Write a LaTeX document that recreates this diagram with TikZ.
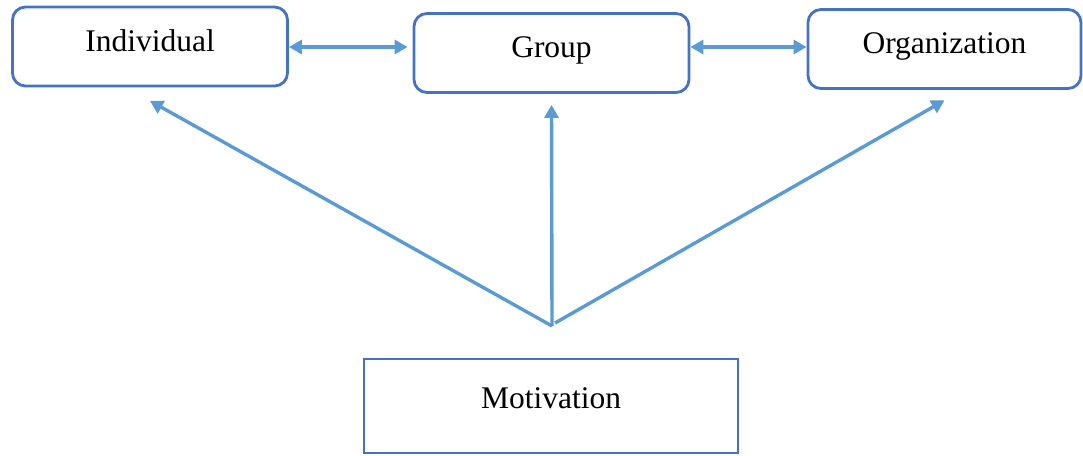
\documentclass[tikz,border=0pt]{standalone}
\usepackage{xcolor}
\usepackage{fontspec}
\setmainfont{Liberation Serif}
\usetikzlibrary{arrows.meta}

\definecolor{boxblue}{RGB}{68,114,196}
\definecolor{arrowblue}{RGB}{91,155,213}

\tikzset{
	roundbox/.style = {draw=boxblue, line width=2.8pt, rounded corners=13pt,
		minimum width=275pt, minimum height=79pt, text depth=12pt},
	squarebox/.style = {draw=boxblue, line width=2.8pt,
		minimum width=374pt, minimum height=94pt, text depth=15pt},
	link/.style = {draw=arrowblue, line width=3.4pt,
		-{Triangle[length=13pt,width=14pt]}},
	twoway/.style = {link, {Triangle[length=13pt,width=14pt]}-{Triangle[length=13pt,width=14pt]}}
}

\begin{document}
\begin{tikzpicture}[x=1pt, y=-1pt, font=\fontsize{31.5}{38}\selectfont]
				% the frame of the whole picture
				\useasboundingbox (0,0) rectangle (1083,455);
				
				% the three levels
				\node[roundbox] (individual) at (150,46.5) {Individual};
				\node[roundbox] (group) at (551.5,53) {Group};
				\node[roundbox, minimum width=273pt] (organization) at (944.5,49) {Organization};
				
				% the source
				\node[squarebox] (motivation) at (551,406) {Motivation};
				\coordinate (fan) at (552,326);
				
				% links between the levels
				\draw[twoway, shorten >=5pt] (individual.east |- 0,47) -- (group.west |- 0,47);
				\draw[twoway] (group.east |- 0,47) -- (organization.west |- 0,47);
				
				% motivation acts on every level
				\draw[link] (fan) -- ([yshift=-13.5pt]individual.south);
				\draw[link] (fan) -- ([yshift=-11pt]group.south);
				\draw[link] ([xshift=3pt,yshift=3pt]fan) -- ([yshift=-10.5pt]organization.south);
				
			\end{tikzpicture}
\end{document}
